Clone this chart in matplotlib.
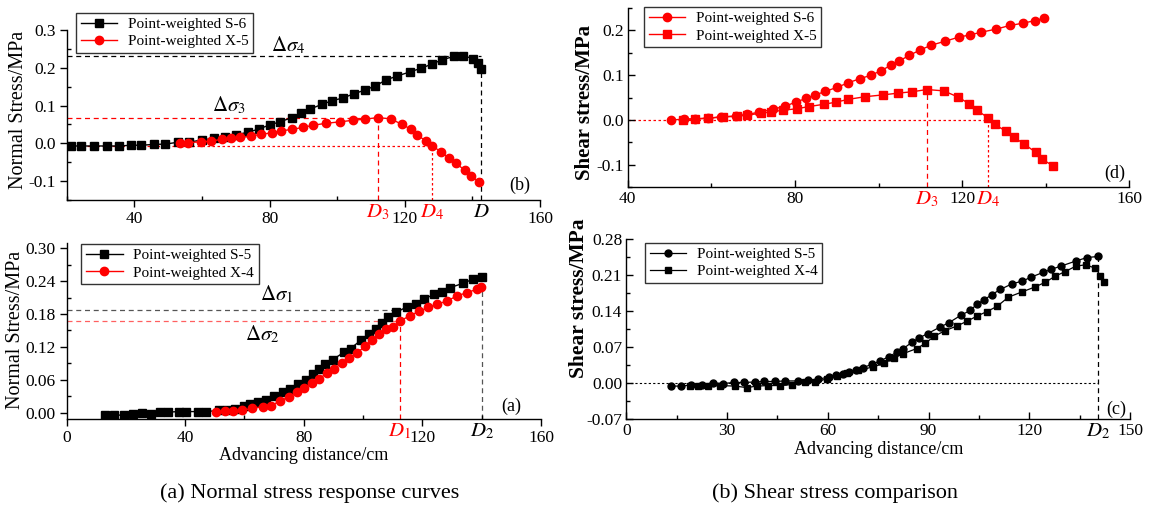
import matplotlib
matplotlib.use('Agg')
import matplotlib.pyplot as plt
import matplotlib.transforms as mtransforms
from matplotlib.ticker import MultipleLocator, FormatStrFormatter

plt.rcParams['font.family'] = ['Liberation Serif', 'DejaVu Serif']
plt.rcParams['mathtext.fontset'] = 'stix'
plt.rcParams['axes.unicode_minus'] = False

# ---------------- data ----------------
# (b) top-left: normal stress, S-6 and X-5
tl_s6_x = [21.3, 24.3, 28.0, 31.9, 35.6, 39.0, 42.0, 45.7, 49.2, 53.0, 56.1, 60.1, 63.5, 66.8, 70.1,
           73.5, 76.9, 80.1, 83.1, 86.6, 89.2, 92.1, 95.4, 98.6, 101.7, 104.9, 108.2, 111.3, 114.5,
           117.7, 121.5, 124.9, 128.1, 131.0, 134.5, 137.3, 140.2, 141.6, 142.6]
tl_s6_y = [-0.007, -0.007, -0.007, -0.007, -0.007, -0.005, -0.005, -0.003, -0.002, 0.003, 0.003, 0.009,
           0.013, 0.018, 0.023, 0.029, 0.038, 0.049, 0.057, 0.068, 0.079, 0.091, 0.103, 0.113, 0.120,
           0.131, 0.141, 0.152, 0.168, 0.178, 0.189, 0.199, 0.210, 0.221, 0.230, 0.232, 0.224, 0.212, 0.196]
tl_x5_x = [53.4, 56.0, 59.7, 62.8, 66.0, 68.7, 71.3, 74.4, 77.6, 80.8, 83.4, 86.7, 89.8, 92.9, 96.7,
           100.9, 104.6, 108.1, 112.0, 115.8, 119.2, 121.7, 123.6, 126.2, 128.1, 130.7, 133.0, 135.2,
           137.7, 139.6, 142.0]
tl_x5_y = [0.002, 0.002, 0.004, 0.006, 0.011, 0.013, 0.016, 0.019, 0.024, 0.028, 0.033, 0.037, 0.042,
           0.048, 0.053, 0.057, 0.061, 0.064, 0.068, 0.065, 0.050, 0.038, 0.022, 0.007, -0.007, -0.022,
           -0.039, -0.053, -0.071, -0.087, -0.102]
tl_sig4, tl_sig3, tl_zero = 0.232, 0.068, -0.007
tl_D, tl_D3, tl_D4 = 142.6, 112.0, 128.1

# (a) bottom-left: normal stress, S-5 and X-4
bl_s5_x = [13.1, 15.9, 19.5, 22.5, 25.4, 28.6, 31.5, 34.2, 37.9, 40.3, 44.3, 46.9, 51.4, 54.2, 56.8,
           59.9, 62.0, 64.6, 67.2, 70.1, 72.9, 75.3, 78.0, 80.6, 83.0, 85.1, 87.3, 89.8, 93.5, 95.8,
           99.2, 102.0, 104.2, 106.5, 108.5, 111.2, 114.7, 117.7, 120.5, 123.9, 126.5, 129.2, 133.7,
           137.2, 140.0]
bl_s5_y = [-0.004, -0.005, -0.004, -0.003, 0.000, -0.002, 0.001, 0.001, 0.002, 0.002, 0.002, 0.002,
           0.004, 0.004, 0.007, 0.012, 0.015, 0.019, 0.024, 0.031, 0.037, 0.043, 0.052, 0.060, 0.071,
           0.080, 0.089, 0.097, 0.110, 0.117, 0.132, 0.143, 0.153, 0.163, 0.174, 0.183, 0.193, 0.199,
           0.207, 0.216, 0.221, 0.228, 0.236, 0.244, 0.247]
bl_x4_x = [50.3, 53.5, 56.3, 59.2, 62.6, 66.3, 68.8, 72.1, 74.9, 77.8, 80.2, 82.8, 85.3, 87.7, 90.1,
           93.0, 95.4, 98.0, 100.8, 103.1, 105.3, 107.6, 110.2, 112.4, 115.8, 118.9, 122.0, 125.1,
           128.4, 131.6, 135.0, 138.3, 139.6]
bl_x4_y = [0.001, 0.003, 0.003, 0.004, 0.008, 0.011, 0.013, 0.021, 0.029, 0.037, 0.045, 0.054, 0.062,
           0.072, 0.080, 0.091, 0.100, 0.109, 0.122, 0.133, 0.144, 0.153, 0.156, 0.167, 0.177, 0.185,
           0.192, 0.198, 0.204, 0.213, 0.219, 0.225, 0.229]
bl_sig1, bl_sig2 = 0.187, 0.167
bl_D1, bl_D2 = 112.4, 140.0

# (d) top-right: shear stress, S-6 and X-5
tr_s6_x = [50.4, 53.5, 56.1, 59.3, 62.3, 65.9, 68.6, 71.3, 74.7, 77.7, 80.2, 82.6, 84.9, 87.3, 90.1,
           92.7, 95.5, 98.2, 100.6, 102.9, 105.0, 107.3, 109.9, 112.6, 116.0, 119.2, 121.9, 124.6,
           128.2, 131.4, 134.5, 137.5, 139.5]
tr_s6_y = [0.000, 0.002, 0.002, 0.004, 0.007, 0.009, 0.013, 0.017, 0.024, 0.031, 0.040, 0.048, 0.056,
           0.064, 0.073, 0.083, 0.092, 0.100, 0.110, 0.122, 0.132, 0.144, 0.156, 0.167, 0.176, 0.185,
           0.190, 0.196, 0.203, 0.211, 0.216, 0.222, 0.227]
tr_x5_x = [53.3, 56.0, 59.1, 62.8, 66.1, 68.6, 71.8, 74.3, 77.2, 80.4, 83.3, 86.9, 89.9, 92.7, 96.8,
           101.0, 104.7, 108.0, 111.6, 115.6, 119.1, 121.7, 123.5, 126.2, 127.8, 130.5, 132.5, 134.9,
           137.6, 139.2, 141.7]
tr_x5_y = [0.001, 0.003, 0.004, 0.007, 0.008, 0.011, 0.015, 0.018, 0.022, 0.025, 0.030, 0.035, 0.040,
           0.046, 0.052, 0.056, 0.060, 0.063, 0.068, 0.065, 0.051, 0.036, 0.022, 0.005, -0.010, -0.025,
           -0.039, -0.054, -0.072, -0.088, -0.102]
tr_D3, tr_D4 = 111.6, 126.3

# (c) bottom-right: shear stress, S-5 and X-4
br_s5_x = [13.3, 16.2, 19.3, 22.5, 25.7, 28.9, 32.0, 35.0, 38.4, 41.1, 44.4, 47.1, 51.0, 54.2, 57.1,
           60.3, 62.5, 64.6, 66.4, 68.3, 70.4, 73.1, 75.6, 78.1, 80.6, 82.5, 85.0, 87.3, 89.7, 93.5,
           96.0, 99.7, 102.4, 104.4, 106.6, 108.9, 111.4, 114.9, 117.9, 120.6, 124.1, 126.5, 129.3,
           133.8, 137.2, 140.5]
br_s5_y = [-0.006, -0.006, -0.004, -0.003, 0.000, -0.001, 0.001, 0.001, 0.002, 0.003, 0.003, 0.004,
           0.004, 0.005, 0.007, 0.012, 0.015, 0.018, 0.021, 0.025, 0.030, 0.036, 0.043, 0.051, 0.060,
           0.067, 0.079, 0.088, 0.096, 0.109, 0.117, 0.132, 0.141, 0.153, 0.162, 0.172, 0.182, 0.193,
           0.198, 0.206, 0.215, 0.221, 0.227, 0.237, 0.244, 0.246]
br_x4_x = [19.0, 21.2, 24.4, 27.9, 32.4, 35.9, 38.8, 42.3, 45.8, 49.3, 53.2, 56.2, 59.7, 62.7, 65.6,
           69.1, 73.4, 76.6, 79.6, 82.4, 86.5, 89.0, 91.7, 95.0, 98.5, 101.4, 104.4, 107.4, 110.4,
           113.8, 117.8, 121.8, 124.8, 127.8, 130.5, 133.8, 136.8, 139.7, 141.2, 142.4]
br_x4_y = [-0.005, -0.006, -0.006, -0.005, -0.006, -0.009, -0.006, -0.005, -0.005, -0.003, 0.001, 0.002,
           0.008, 0.014, 0.019, 0.025, 0.031, 0.038, 0.049, 0.057, 0.067, 0.077, 0.091, 0.102, 0.111,
           0.120, 0.130, 0.139, 0.149, 0.167, 0.177, 0.187, 0.196, 0.208, 0.216, 0.227, 0.230, 0.223,
           0.209, 0.196]
br_D2 = 140.5

# ---------------- figure ----------------
W, H = 1162, 512
fig = plt.figure(figsize=(W / 100, H / 100), dpi=100)


def px_axes(l, t, r, b):
    return fig.add_axes([l / W, 1 - b / H, (r - l) / W, (b - t) / H])


def style(ax, direction_major, direction_minor):
    ax.spines['top'].set_visible(False)
    ax.spines['right'].set_visible(False)
    for s in ('left', 'bottom'):
        ax.spines[s].set_linewidth(1.0)
    ax.tick_params(which='major', direction=direction_major, length=5, width=1, labelsize=12.5, pad=3)
    ax.tick_params(which='minor', direction=direction_minor, length=3, width=1)


def legend(ax, x0, y0):
    lg = ax.legend(loc='upper left', bbox_to_anchor=(x0 / W, 1 - y0 / H), bbox_transform=fig.transFigure,
                   fontsize=11, frameon=True, fancybox=False, borderaxespad=0, handlelength=2.4,
                   handletextpad=0.7, borderpad=0.3, labelspacing=0.25)
    lg.get_frame().set_edgecolor('black')
    lg.get_frame().set_linewidth(1.0)


def dlabel(ax, x, text, color):
    trans = mtransforms.blended_transform_factory(ax.transData, ax.transAxes)
    ax.annotate(text, xy=(x, 0), xycoords=trans, xytext=(0, -2), textcoords='offset points',
                ha='center', va='top', fontsize=15, color=color)


RED = '#ff0000'

# ---- (b) top-left ----
ax1 = px_axes(66.7, 30, 540, 200)
ax1.plot(tl_s6_x, tl_s6_y, '-s', color='black', ms=5.5, lw=1, label='Point-weighted S-6', zorder=3)
ax1.plot(tl_x5_x, tl_x5_y, '-o', color=RED, ms=6, lw=1, label='Point-weighted X-5', zorder=3)
ax1.plot([20, tl_D], [tl_sig4, tl_sig4], ls=(0, (4, 3)), color='black', lw=0.9, zorder=1)
ax1.plot([tl_D, tl_D], [-0.15, tl_s6_y[-1]], ls=(0, (4, 3)), color='black', lw=0.9, zorder=1)
ax1.plot([20, tl_D3], [tl_sig3, tl_sig3], ls=(0, (4, 3)), color=RED, lw=0.9, zorder=1)
ax1.plot([tl_D3, tl_D3], [-0.15, tl_sig3], ls=(0, (4, 3)), color=RED, lw=0.9, zorder=1)
ax1.plot([20, tl_D4], [tl_zero, tl_zero], ls=(0, (2, 2)), color=RED, lw=0.9, zorder=1)
ax1.plot([tl_D4, tl_D4], [-0.15, tl_zero], ls=(0, (2, 2)), color=RED, lw=0.9, zorder=1)
ax1.set_xlim(20, 160)
ax1.set_ylim(-0.15, 0.3)
ax1.xaxis.set_major_locator(MultipleLocator(40))
ax1.xaxis.set_minor_locator(MultipleLocator(20))
ax1.yaxis.set_major_locator(MultipleLocator(0.1))
ax1.yaxis.set_minor_locator(MultipleLocator(0.05))
ax1.yaxis.set_major_formatter(FormatStrFormatter('%.1f'))
style(ax1, 'out', 'in')
ax1.set_ylabel('Normal Stress/MPa', fontsize=14.5)
ax1.yaxis.set_label_coords(-0.082, 0.53)
ax1.text(85.5, 0.258, r'$\Delta\sigma_4$', fontsize=15, ha='center', va='center')
ax1.text(68, 0.10, r'$\Delta\sigma_3$', fontsize=15, ha='center', va='center')
ax1.text(154, -0.11, '(b)', fontsize=13, ha='center', va='center')
dlabel(ax1, tl_D3, r'$D_3$', RED)
dlabel(ax1, tl_D4, r'$D_4$', RED)
dlabel(ax1, tl_D, r'$D$', 'black')
legend(ax1, 76, 12.7)

# ---- (a) bottom-left ----
ax2 = px_axes(66.5, 242.8, 541, 418.7)
ax2.plot(bl_s5_x, bl_s5_y, '-s', color='black', ms=5.5, lw=1, label='Point-weighted S-5', zorder=3)
ax2.plot(bl_x4_x, bl_x4_y, '-o', color=RED, ms=6, lw=1, label='Point-weighted X-4', zorder=3)
ax2.plot([0, 111.2], [bl_sig1, bl_sig1], ls=(0, (4, 3)), color='#555555', lw=0.9, zorder=1)
ax2.plot([bl_D2, bl_D2], [-0.011, bl_s5_y[-1]], ls=(0, (4, 3)), color='#555555', lw=0.9, zorder=1)
ax2.plot([0, bl_D1], [bl_sig2, bl_sig2], ls=(0, (4, 3)), color='#ff6060', lw=0.9, zorder=1)
ax2.plot([bl_D1, bl_D1], [-0.011, bl_sig2], ls=(0, (4, 3)), color=RED, lw=0.9, zorder=1)
ax2.set_xlim(0, 160)
ax2.set_ylim(-0.011, 0.31)
ax2.xaxis.set_major_locator(MultipleLocator(40))
ax2.xaxis.set_minor_locator(MultipleLocator(20))
ax2.yaxis.set_major_locator(MultipleLocator(0.06))
ax2.yaxis.set_minor_locator(MultipleLocator(0.03))
ax2.yaxis.set_major_formatter(FormatStrFormatter('%.2f'))
style(ax2, 'out', 'in')
ax2.set_ylabel('Normal Stress/MPa', fontsize=14.5)
ax2.yaxis.set_label_coords(-0.088, 0.504)
ax2.set_xlabel('Advancing distance/cm', fontsize=13, labelpad=1)
ax2.text(71, 0.216, r'$\Delta\sigma_1$', fontsize=15, ha='center', va='center')
ax2.text(66, 0.143, r'$\Delta\sigma_2$', fontsize=15, ha='center', va='center')
ax2.text(150, 0.011, '(a)', fontsize=13, ha='center', va='center')
dlabel(ax2, bl_D1, r'$D_1$', RED)
dlabel(ax2, bl_D2, r'$D_2$', 'black')
legend(ax2, 81.4, 244)

# ---- (d) top-right ----
ax3 = px_axes(627.8, 8, 1129.3, 187.2)
ax3.plot(tr_s6_x, tr_s6_y, '-o', color=RED, ms=6, lw=1, label='Point-weighted S-6', zorder=3)
ax3.plot(tr_x5_x, tr_x5_y, '-s', color=RED, ms=5.5, lw=1, label='Point-weighted X-5', zorder=3)
ax3.plot([tr_D3, tr_D3], [-0.15, 0.068], ls=(0, (4, 3)), color=RED, lw=0.9, zorder=1)
ax3.plot([40, tr_D4], [0, 0], ls=(0, (2, 2)), color=RED, lw=0.9, zorder=1)
ax3.plot([tr_D4, tr_D4], [-0.15, 0.005], ls=(0, (2, 2)), color=RED, lw=0.9, zorder=1)
ax3.set_xlim(40, 160)
ax3.set_ylim(-0.15, 0.25)
ax3.xaxis.set_major_locator(MultipleLocator(40))
ax3.xaxis.set_minor_locator(MultipleLocator(20))
ax3.yaxis.set_major_locator(MultipleLocator(0.1))
ax3.yaxis.set_minor_locator(MultipleLocator(0.05))
ax3.yaxis.set_major_formatter(FormatStrFormatter('%.1f'))
style(ax3, 'in', 'in')
ax3.set_ylabel('Shear stress/MPa', fontsize=15, fontweight='bold')
ax3.yaxis.set_label_coords(-0.065, 0.47)
ax3.text(156.5, -0.118, '(d)', fontsize=13, ha='center', va='center')
dlabel(ax3, tr_D3, r'$D_3$', RED)
dlabel(ax3, tr_D4, r'$D_4$', RED)
legend(ax3, 644, 7)

# ---- (c) bottom-right ----
ax4 = px_axes(626.4, 239, 1130, 419)
ax4.plot(br_s5_x, br_s5_y, '-o', color='black', ms=5, lw=0.9, label='Point-weighted S-5', zorder=3)
ax4.plot(br_x4_x, br_x4_y, '-s', color='black', ms=4.6, lw=0.9, label='Point-weighted X-4', zorder=3)
ax4.plot([0, br_D2], [0, 0], ls=(0, (2, 2)), color='black', lw=0.8, zorder=1)
ax4.plot([br_D2, br_D2], [-0.07, br_s5_y[-1]], ls=(0, (4, 3)), color='black', lw=0.9, zorder=1)
ax4.set_xlim(0, 150)
ax4.set_ylim(-0.07, 0.28)
ax4.xaxis.set_major_locator(MultipleLocator(30))
ax4.xaxis.set_minor_locator(MultipleLocator(15))
ax4.yaxis.set_major_locator(MultipleLocator(0.07))
ax4.yaxis.set_minor_locator(MultipleLocator(0.035))
ax4.yaxis.set_major_formatter(FormatStrFormatter('%.2f'))
style(ax4, 'in', 'in')
ax4.set_ylabel('Shear stress/MPa', fontsize=15.5, fontweight='bold')
ax4.yaxis.set_label_coords(-0.074, 0.672)
ax4.set_xlabel('Advancing distance/cm', fontsize=13, labelpad=1)
ax4.text(146, -0.052, '(c)', fontsize=13, ha='center', va='center')
dlabel(ax4, br_D2, r'$D_2$', 'black')
legend(ax4, 645, 242.7)

# captions
fig.text(310 / W, 1 - 493 / H, '(a) Normal stress response curves', ha='center', va='center', fontsize=16)
fig.text(835 / W, 1 - 493 / H, '(b) Shear stress comparison', ha='center', va='center', fontsize=16)

fig.savefig('out.png', dpi=100)
